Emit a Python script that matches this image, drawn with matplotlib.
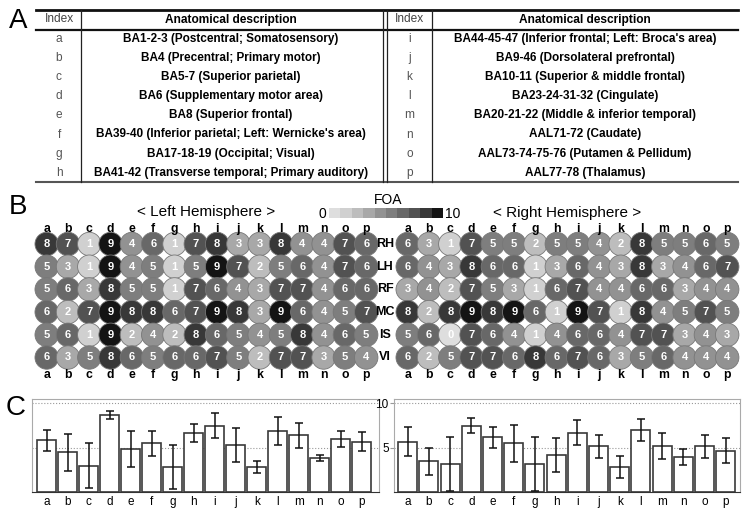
import matplotlib
matplotlib.use('Agg')
import matplotlib.pyplot as plt
import numpy as np
from matplotlib.colors import ListedColormap, BoundaryNorm

plt.rcParams['font.family'] = ['Liberation Sans', 'DejaVu Sans']

# ========== 数据 ==========
left_idx = list('abcdefgh')
left_desc = ['BA1-2-3 (Postcentral; Somatosensory)',
             'BA4 (Precentral; Primary motor)',
             'BA5-7 (Superior parietal)',
             'BA6 (Supplementary motor area)',
             'BA8 (Superior frontal)',
             "BA39-40 (Inferior parietal; Left: Wernicke's area)",
             'BA17-18-19 (Occipital; Visual)',
             'BA41-42 (Transverse temporal; Primary auditory)']
right_idx = list('ijklmnop')
right_desc = ["BA44-45-47 (Inferior frontal; Left: Broca's area)",
              'BA9-46 (Dorsolateral prefrontal)',
              'BA10-11 (Superior & middle frontal)',
              'BA23-24-31-32 (Cingulate)',
              'BA20-21-22 (Middle & inferior temporal)',
              'AAL71-72 (Caudate)',
              'AAL73-74-75-76 (Putamen & Pellidum)',
              'AAL77-78 (Thalamus)']

regions = list('abcdefghijklmnop')
subjects = ['RH', 'LH', 'RF', 'MC', 'IS', 'VI']

foa_left = [[8, 7, 1, 9, 4, 6, 1, 7, 8, 3, 3, 8, 4, 4, 7, 6],
            [5, 3, 1, 9, 4, 5, 1, 5, 9, 7, 2, 5, 6, 4, 7, 6],
            [5, 6, 3, 8, 5, 5, 1, 7, 6, 4, 3, 7, 7, 4, 6, 6],
            [6, 2, 7, 9, 8, 8, 6, 7, 9, 8, 3, 9, 6, 4, 5, 7],
            [5, 6, 1, 9, 2, 4, 2, 8, 6, 5, 4, 5, 8, 4, 6, 5],
            [6, 3, 5, 8, 6, 5, 6, 6, 7, 5, 2, 7, 7, 3, 5, 4]]
foa_right = [[6, 3, 1, 7, 5, 5, 2, 5, 5, 4, 2, 8, 5, 5, 6, 5],
             [6, 4, 3, 8, 6, 6, 1, 3, 6, 4, 3, 8, 3, 4, 6, 7],
             [3, 4, 2, 7, 5, 3, 1, 6, 7, 4, 4, 6, 6, 3, 4, 4],
             [8, 2, 8, 9, 8, 9, 6, 1, 9, 7, 1, 8, 4, 5, 7, 5],
             [5, 6, 0, 7, 6, 4, 1, 4, 6, 6, 4, 7, 7, 3, 4, 3],
             [6, 2, 5, 7, 7, 6, 8, 6, 7, 6, 3, 5, 6, 4, 4, 4]]

mean_left = [5.85, 4.5, 3.0, 8.67, 4.85, 5.5, 2.85, 6.7, 7.5, 5.35, 2.85, 6.9, 6.4, 3.9, 6.0, 5.7]
err_left = [1.2, 2.1, 2.5, 0.45, 2.0, 1.4, 2.5, 1.0, 1.4, 1.9, 0.7, 1.6, 1.4, 0.35, 0.9, 1.05]
mean_right = [5.7, 3.5, 3.2, 7.5, 6.2, 5.5, 3.2, 4.2, 6.7, 5.2, 2.85, 7.05, 5.2, 4.0, 5.2, 4.7]
err_right = [1.6, 1.5, 3.0, 0.85, 1.2, 2.1, 3.05, 1.95, 1.4, 1.3, 1.2, 1.25, 1.45, 0.9, 1.3, 1.4]

foa_grays = ['#dedede', '#d0d0d0', '#bdbdbd', '#a8a8a8', '#929292',
             '#7e7e7e', '#686868', '#525252', '#383838', '#141414']
cmap = ListedColormap(foa_grays)
norm = BoundaryNorm(np.arange(0, 11), cmap.N)

# ========== 画布（像素坐标辅助） ==========
W, H = 749, 513
fig = plt.figure(figsize=(W / 100, H / 100), dpi=100)


def rect(x0, y0, x1, y1):
    return [x0 / W, 1 - y1 / H, (x1 - x0) / W, (y1 - y0) / H]


ov = fig.add_axes([0, 0, 1, 1])
ov.set_xlim(0, W)
ov.set_ylim(H, 0)
ov.axis('off')

# 面板字母
for lab, (px, py) in zip('ABC', [(18, 21), (18, 207), (16, 408)]):
    ov.text(px, py, lab, fontsize=20, ha='center', va='center')

# ========== A：表格 ==========
row_y0, row_dy = 39, 19.1
ov.plot([36, 738], [9.5, 9.5], color='#111', lw=2)
ov.plot([36, 738], [29.5, 29.5], color='#111', lw=1.6)
ov.plot([36, 738], [182, 182], color='#555', lw=1.5)
for vx in [81, 382.7, 386.7, 432.3]:
    ov.plot([vx, vx], [9.5, 182], color='#222', lw=0.9)

for cx_idx, cx_desc, idxs, descs in [(59, 231, left_idx, left_desc),
                                     (409.5, 585, right_idx, right_desc)]:
    ov.text(cx_idx, 19.5, 'Index', fontsize=8.6, color='#444', ha='center', va='center')
    ov.text(cx_desc, 19.5, 'Anatomical description', fontsize=8.6, fontweight='bold',
            ha='center', va='center')
    for i, (ix, ds) in enumerate(zip(idxs, descs)):
        y = row_y0 + i * row_dy
        ov.text(cx_idx, y, ix, fontsize=8.6, color='#555', ha='center', va='center')
        ov.text(cx_desc, y, ds, fontsize=8.5, fontweight='bold', ha='center', va='center')

# ========== B：FOA 圆点矩阵 ==========
dx, dy = 21.3, 22.7
grid_axes = []
for a_x, data in [(46.7, foa_left), (407.7, foa_right)]:
    ax = fig.add_axes(rect(a_x - dx / 2, 244 - dy / 2, a_x + 15.5 * dx, 244 + 5.5 * dy))
    ax.set_xlim(-0.5, 15.5)
    ax.set_ylim(5.5, -0.5)
    ax.axis('off')
    vals = np.array(data)
    cols, rows = np.meshgrid(np.arange(len(regions)), np.arange(len(subjects)))
    ax.scatter(cols.ravel(), rows.ravel(), s=285, c=vals.ravel(), cmap=cmap, norm=norm,
               edgecolors='#777777', linewidths=0.6, zorder=2, clip_on=False)
    for r in range(len(subjects)):
        for c in range(len(regions)):
            ax.text(c, r, str(vals[r, c]), color='white', fontsize=8, fontweight='bold',
                    ha='center', va='center', zorder=3)
    for c, lab in enumerate(regions):
        ax.text(c, -0.51, lab, fontsize=8.8, fontweight='bold', ha='center', va='baseline')
        ax.text(c, 5.9, lab, fontsize=8.8, fontweight='bold', ha='center', va='baseline')
    grid_axes.append(ax)

for r, s in enumerate(subjects):
    grid_axes[0].text(15.88, r, s, fontsize=9, fontweight='bold', ha='center',
                      va='center', zorder=5, clip_on=False)

ov.text(206, 212, '< Left Hemisphere >', fontsize=11, ha='center', va='center')
ov.text(567, 213, '< Right Hemisphere >', fontsize=11, ha='center', va='center')

# 色标
cax = fig.add_axes(rect(329, 208, 443, 218))
cax.imshow(np.arange(10).reshape(1, -1), cmap=cmap, norm=norm, aspect='auto',
           extent=[0, 10, 0, 1])
cax.axis('off')
ov.text(388, 200, 'FOA', fontsize=10, ha='center', va='center')
ov.text(322, 214, '0', fontsize=10, ha='center', va='center')
ov.text(453, 214, '10', fontsize=10, ha='center', va='center')

# ========== C：均值柱状图 ==========
bar_specs = [((32, 379), 46.7, 21.0, mean_left, err_left, False),
             ((394.3, 740), 407.7, 21.2, mean_right, err_right, True)]
for (x0, x1), a_x, step, means, errs, show_y in bar_specs:
    ax = fig.add_axes(rect(x0, 399, x1, 492.3))
    x = np.arange(len(regions))
    ax.bar(x, means, width=0.9, color='white', edgecolor='#3a3a3a', linewidth=1.2, zorder=2)
    ax.errorbar(x, means, yerr=errs, fmt='none', ecolor='#111', elinewidth=1.1,
                capsize=3, capthick=1.1, zorder=3)
    for yl in [5, 10]:
        ax.axhline(yl, color='#999', ls=':', lw=0.8, zorder=1)
    ax.set_xlim(-(a_x - x0) / step, 15 + (x1 - (a_x + 15 * step)) / step)
    ax.set_ylim(0, 10.5)
    ax.set_xticks(x)
    ax.set_xticklabels(regions, fontsize=8.5)
    ax.tick_params(axis='x', length=0, pad=3)
    for sp in ['top', 'left', 'right']:
        ax.spines[sp].set_color('#aaaaaa')
    ax.spines['bottom'].set_color('#333333')
    if show_y:
        ax.set_yticks([5, 10])
        ax.set_yticklabels(['5', '10'], fontsize=8.5)
        ax.tick_params(axis='y', length=3, color='#999', pad=1)
    else:
        ax.set_yticks([])

plt.savefig('out.png', dpi=100)
plt.close()
